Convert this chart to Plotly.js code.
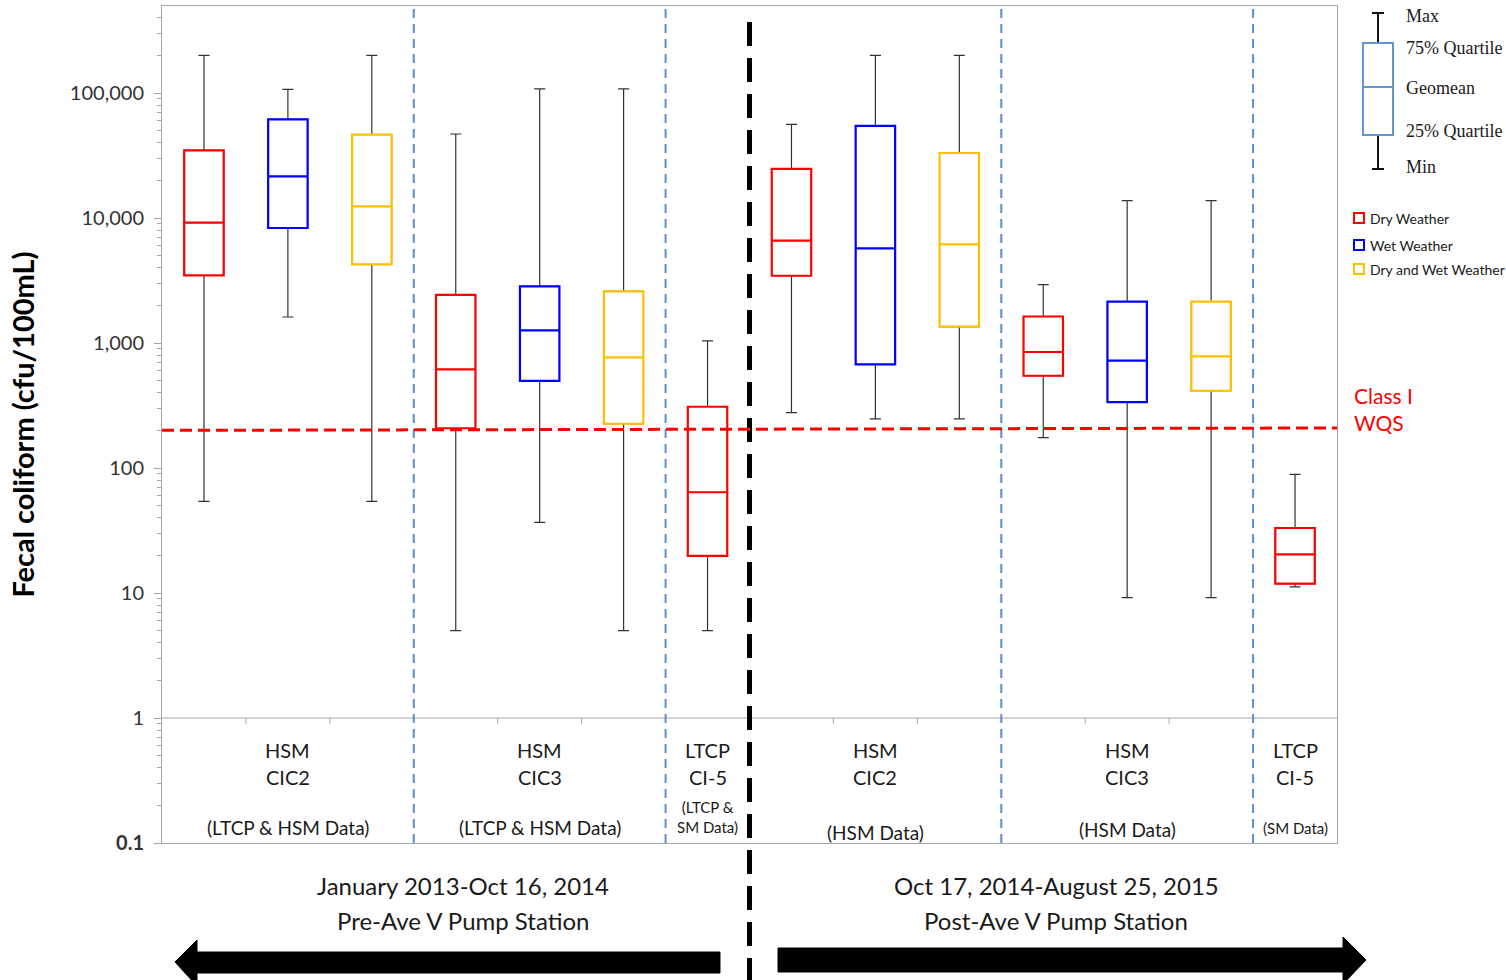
<!DOCTYPE html>
<html>
<head>
<meta charset="utf-8">
<script src="https://cdn.plot.ly/plotly-3.0.1.min.js"></script>
<style>html,body{margin:0;padding:0;background:#fff;}#chart{width:1506px;height:980px;}</style>
</head>
<body>
<div id="chart"></div>
<script>
// ---------- DATA ----------
const categories = [
  'Pre CIC2 Dry','Pre CIC2 Wet','Pre CIC2 Dry+Wet',
  'Pre CIC3 Dry','Pre CIC3 Wet','Pre CIC3 Dry+Wet',
  'Pre CI-5 Dry',
  'Post CIC2 Dry','Post CIC2 Wet','Post CIC2 Dry+Wet',
  'Post CIC3 Dry','Post CIC3 Wet','Post CIC3 Dry+Wet',
  'Post CI-5 Dry'
];
const seriesNames = ['Dry Weather','Wet Weather','Dry and Wet Weather'];

const dryCats = ['Pre CIC2 Dry','Pre CIC3 Dry','Pre CI-5 Dry','Post CIC2 Dry','Post CIC3 Dry','Post CI-5 Dry'];
const dryMin  = [54, 5, 5, 277, 175, 11.2];
const dryQ1   = [3470, 208, 19.8, 3450, 547, 11.9];
const dryGeo  = [9170, 615, 64, 6580, 847, 20.4];
const dryQ3   = [34700, 2430, 309, 24700, 1630, 33.1];
const dryMax  = [200000, 47000, 1040, 56100, 2930, 89];

const wetCats = ['Pre CIC2 Wet','Pre CIC3 Wet','Post CIC2 Wet','Post CIC3 Wet'];
const wetMin  = [1615, 36.7, 247, 9.2];
const wetQ1   = [8320, 497, 674, 337];
const wetGeo  = [21500, 1262, 5715, 722];
const wetQ3   = [61500, 2840, 54500, 2140];
const wetMax  = [107000, 108000, 200000, 13750];

const bothCats = ['Pre CIC2 Dry+Wet','Pre CIC3 Dry+Wet','Post CIC2 Dry+Wet','Post CIC3 Dry+Wet'];
const bothMin  = [54, 5, 247, 9.2];
const bothQ1   = [4255, 226, 1350, 415];
const bothGeo  = [12400, 767, 6150, 781];
const bothQ3   = [46400, 2590, 33100, 2140];
const bothMax  = [200000, 108000, 200000, 13750];

const wqs = 200;        // Class I WQS
const wqsRight = 209;   // drawn line ends slightly higher at the right

const groupMembers = [[0,1,2],[3,4,5],[6],[7,8,9],[10,11,12],[13]];
const groupTitles = [['HSM','CIC2'],['HSM','CIC3'],['LTCP','CI-5'],['HSM','CIC2'],['HSM','CIC3'],['LTCP','CI-5']];
const groupNotes = ['(LTCP & HSM Data)','(LTCP & HSM Data)','(LTCP &<br>SM Data)','(HSM Data)','(HSM Data)','(SM Data)'];
const periodBoundary = 6.5;
const periodTitles = [['January 2013-Oct 16, 2014','Pre-Ave V Pump Station'],['Oct 17, 2014-August 25, 2015','Post-Ave V Pump Station']];

const yTickVals = [0.1,1,10,100,1000,10000,100000];
const yTickText = ['<b>0.1</b>','1','10','100','1,000','10,000','100,000'];

const keyLabels = ['Max','75% Quartile','Geomean','25% Quartile','Min'];

// ---------- STYLE / LAYOUT HELPERS ----------
const colors = ['#FF0000','#0000FF','#FFC000'];
const L=162, R=1337, T=6, B=843;
const px = x => (x-L)/(R-L);
const py = y => (B-y)/(B-T);
const FONT = 'Lato, "Open Sans", sans-serif';

const series = [
  {cats: dryCats, mn: dryMin, q1: dryQ1, md: dryGeo, q3: dryQ3, mx: dryMax},
  {cats: wetCats, mn: wetMin, q1: wetQ1, md: wetGeo, q3: wetQ3, mx: wetMax},
  {cats: bothCats, mn: bothMin, q1: bothQ1, md: bothGeo, q3: bothQ3, mx: bothMax}
];

const traces = [];
// whiskers (black)
series.forEach((s,i)=>{
  traces.push({
    type:'box', x:s.cats, q1:s.q1, median:s.md, q3:s.q3,
    lowerfence:s.mn, upperfence:s.mx, boxpoints:false,
    width:0.47, whiskerwidth:0.28,
    line:{color:'#333333', width:1.2}, fillcolor:'rgba(0,0,0,0)',
    showlegend:false, hoverinfo:'skip'
  });
});
// coloured boxes
series.forEach((s,i)=>{
  traces.push({
    type:'box', name:seriesNames[i], x:s.cats, q1:s.q1, median:s.md, q3:s.q3,
    lowerfence:s.q1, upperfence:s.q3, boxpoints:false,
    width:0.47, whiskerwidth:0,
    line:{color:colors[i], width:2.2}, fillcolor:'#ffffff',
    showlegend:false
  });
});

const shapes = [];
const annotations = [];

// horizontal line at 1
shapes.push({type:'line', xref:'paper', yref:'y', x0:0, x1:1, y0:1, y1:1, line:{color:'#a6a6a6', width:1}});
// small ticks between slots within groups, and dashed separators between groups
groupMembers.forEach((g,gi)=>{
  for(let k=0;k<g.length-1;k++){
    shapes.push({type:'line', xref:'x', yref:'y', x0:g[k]+0.5, x1:g[k]+0.5, y0:1, y1:0.9, line:{color:'#a6a6a6', width:1}});
  }
  if(gi<groupMembers.length-1){
    const b = g[g.length-1]+0.5;
    if(b!==periodBoundary){
      shapes.push({type:'line', xref:'x', yref:'paper', x0:b, x1:b, y0:0, y1:1, line:{color:'#5b8fd0', width:2, dash:'9px,6px'}});
    }
  }
  const cx = g.reduce((a,b)=>a+b,0)/g.length;
  annotations.push({xref:'x', yref:'paper', x:cx, y:py(750), text:groupTitles[gi][0], showarrow:false, xanchor:'center', font:{family:FONT, size:20, color:'#1a1a1a'}, yanchor:'middle'});
  annotations.push({xref:'x', yref:'paper', x:cx, y:py(777), text:groupTitles[gi][1], showarrow:false, xanchor:'center', font:{family:FONT, size:20, color:'#1a1a1a'}, yanchor:'middle'});
});
const noteY = [827, 827, 817, 832, 829, 828];
groupMembers.forEach((g,gi)=>{
  const cx = g.reduce((a,b)=>a+b,0)/g.length;
  const small = g.length===1;
  annotations.push({xref:'x', yref:'paper', x:cx, y:py(noteY[gi]), text:groupNotes[gi], showarrow:false, xanchor:'center',
    font:{family:FONT, size: small?15:19, color:'#1a1a1a'}, yanchor:'middle'});
});

// period boundary: thick black dashed line
shapes.push({type:'line', xref:'x', yref:'paper', x0:periodBoundary, x1:periodBoundary, y0:py(982), y1:py(10), line:{color:'#000', width:5, dash:'24px,12px'}});

// WQS line
shapes.push({type:'line', xref:'paper', yref:'y', x0:0, x1:1, y0:wqs, y1:wqsRight, line:{color:'#FF0000', width:3, dash:'12px,6px'}});
annotations.push({xref:'paper', yref:'paper', x:px(1352), y:py(409), text:'Class I<br>WQS', align:'left', xanchor:'left', yanchor:'middle', showarrow:false, font:{family:FONT, size:21, color:'#FF0000'}});

// period titles
const periodCenters = [463, 1056];
periodTitles.forEach((p,i)=>{
  annotations.push({xref:'paper', yref:'paper', x:px(periodCenters[i]), y:py(885), text:p[0], showarrow:false, xanchor:'center', yanchor:'middle', font:{family:FONT, size:24, color:'#1a1a1a'}});
  annotations.push({xref:'paper', yref:'paper', x:px(periodCenters[i]), y:py(920), text:p[1], showarrow:false, xanchor:'center', yanchor:'middle', font:{family:FONT, size:24, color:'#1a1a1a'}});
});

// arrows
function pathFrom(pts){ return 'M' + pts.map(p=>px(p[0]).toFixed(5)+','+py(p[1]).toFixed(5)).join(' L') + ' Z'; }
shapes.push({type:'path', xref:'paper', yref:'paper', path:pathFrom([[175,962],[197,940],[197,952],[720,952],[720,973],[197,973],[197,986]]), fillcolor:'#000', line:{color:'#000', width:1}});
shapes.push({type:'path', xref:'paper', yref:'paper', path:pathFrom([[778,948],[1343,948],[1343,937],[1366,960],[1343,984],[1343,972],[778,972]]), fillcolor:'#000', line:{color:'#000', width:1}});

// key diagram
const keyBlue = '#6394d3';
shapes.push({type:'line', xref:'paper', yref:'paper', x0:px(1378), x1:px(1378), y0:py(13), y1:py(43), line:{color:'#111', width:2}});
shapes.push({type:'line', xref:'paper', yref:'paper', x0:px(1372), x1:px(1384), y0:py(13), y1:py(13), line:{color:'#111', width:2}});
shapes.push({type:'line', xref:'paper', yref:'paper', x0:px(1378), x1:px(1378), y0:py(135), y1:py(169), line:{color:'#111', width:2}});
shapes.push({type:'line', xref:'paper', yref:'paper', x0:px(1372), x1:px(1384), y0:py(169), y1:py(169), line:{color:'#111', width:2}});
shapes.push({type:'rect', xref:'paper', yref:'paper', x0:px(1363), x1:px(1393), y0:py(135), y1:py(43), line:{color:keyBlue, width:2}, fillcolor:'#fff'});
shapes.push({type:'line', xref:'paper', yref:'paper', x0:px(1363), x1:px(1393), y0:py(87), y1:py(87), line:{color:keyBlue, width:2}});
const keyY = [16, 48, 88, 131, 167];
keyLabels.forEach((t,i)=>{
  annotations.push({xref:'paper', yref:'paper', x:px(1404), y:py(keyY[i]), text:t, xanchor:'left', yanchor:'middle', showarrow:false, font:{family:'"Liberation Serif", serif', size:18, color:'#1a1a1a'}});
});
// colour legend
const legY = [218, 245, 269];
seriesNames.forEach((n,i)=>{
  shapes.push({type:'rect', xref:'paper', yref:'paper', x0:px(1354), x1:px(1364), y0:py(legY[i]+5), y1:py(legY[i]-5), line:{color:colors[i], width:2}, fillcolor:'#fff'});
  annotations.push({xref:'paper', yref:'paper', x:px(1368), y:py(legY[i]), text:n, xanchor:'left', yanchor:'middle', showarrow:false, font:{family:FONT, size:14, color:'#1a1a1a'}});
});

// minor tick positions on log axis
const minorVals = [];
for(let e=-1;e<=5;e++){ for(let m=2;m<=9;m++){ minorVals.push(m*Math.pow(10,e)); } }

const layout = {
  width:1506, height:980,
  margin:{l:L, r:1506-R, t:T, b:980-B},
  paper_bgcolor:'#fff', plot_bgcolor:'#fff',
  boxmode:'overlay',
  showlegend:false,
  xaxis:{type:'category', categoryorder:'array', categoryarray:categories, range:[-0.5,13.5],
    showticklabels:false, ticks:'', showgrid:false, zeroline:false,
    showline:true, linecolor:'#a6a6a6', linewidth:1, mirror:true},
  yaxis:{type:'log', range:[-1, 5.696], tickmode:'array', tickvals:yTickVals, ticktext:yTickText,
    ticks:'outside', ticklen:7, tickcolor:'#a6a6a6', ticklabelstandoff:6,
    minor:{tickvals:minorVals, ticks:'outside', ticklen:4, tickcolor:'#a6a6a6'},
    showgrid:false, zeroline:false, showline:true, linecolor:'#a6a6a6', linewidth:1, mirror:true,
    tickfont:{family:FONT, size:20, color:'#333'},
    title:{text:'<b>Fecal coliform (cfu/100mL)</b>', font:{family:FONT, size:29, color:'#000'}, standoff:26}},
  shapes:shapes,
  annotations:annotations
};

Plotly.newPlot('chart', traces, layout, {staticPlot:true, displayModeBar:false});
</script>
</body>
</html>
